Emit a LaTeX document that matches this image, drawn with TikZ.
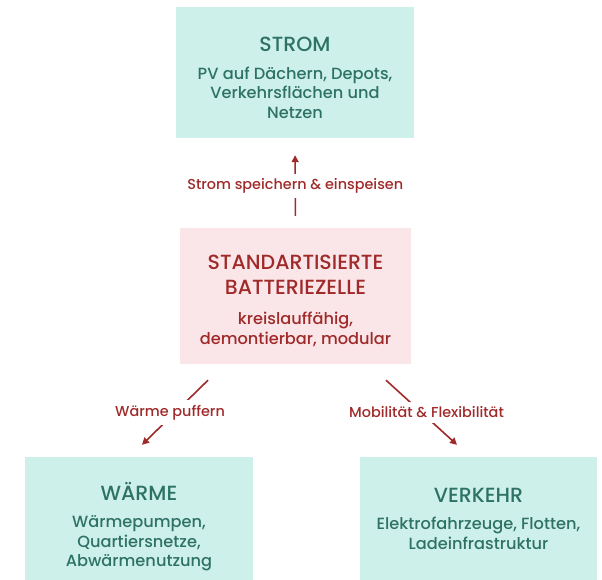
\documentclass[tikz,border=0pt]{standalone}
\usepackage{fontspec}
\setmainfont{Poppins Medium}
\usetikzlibrary{arrows.meta, positioning}
\definecolor{cellteal}{RGB}{46, 114, 102}
\definecolor{cellmint}{RGB}{205, 240, 234}
\definecolor{cellred}{RGB}{160, 42, 42}
\definecolor{cellpink}{RGB}{250, 230, 232}
% title line, with a strut that sets how far the text sits from the box top
\newcommand{\boxtitle}[2]{{\fontsize{20.5}{26}\selectfont\rule{0pt}{#1}#2}}

\begin{document}
\begin{tikzpicture}[
    x=1pt, y=-1pt,
    sector/.style={fill=cellmint, text=cellteal, align=center, inner sep=0pt,
                   font=\fontsize{16.2}{19.5}\selectfont},
    cell/.style={fill=cellpink, text=cellred, align=center, inner sep=0pt,
                 font=\fontsize{16.2}{20}\selectfont},
    lbl/.style={fill=white, text=cellred, inner xsep=2pt, inner ysep=5pt,
                font=\fontsize{14.4}{16}\selectfont},
    arr/.style={-{Triangle[length=7pt, width=7pt]}, draw=cellred,
                line width=1.6pt},
  ]
    \useasboundingbox (0,0) rectangle (602,580);
    % Supply side on top
    \node[sector, minimum width=238pt, minimum height=131pt] (strom) at (295,72.5)
      {\boxtitle{25pt}{STROM}\\[8pt]PV auf Dächern, Depots,\\Verkehrsflächen und\\Netzen};
    % Central battery cell
    \node[cell, minimum width=231pt, minimum height=136pt] (batt) at (295.5,296)
      {\boxtitle{25pt}{STANDARTISIERTE}\\[5pt]\boxtitle{0pt}{BATTERIEZELLE}\\[10pt]kreislauffähig,\\demontierbar, modular};
    % Two sectors below
    \node[sector, minimum width=228pt, minimum height=123pt] (waerme) at (139,518.5)
      {\boxtitle{34pt}{WÄRME}\\[8pt]Wärmepumpen,\\Quartiersnetze,\\Abwärmenutzung};
    \node[sector, minimum width=237pt, minimum height=123pt] (verkehr) at (478.5,518.5)
      {\boxtitle{0pt}{VERKEHR}\\[8pt]Elektrofahrzeuge, Flotten,\\Ladeinfrastruktur};

    \draw[arr, shorten <=12pt, shorten >=17pt] (batt.north) --
      node[lbl, yshift=-3pt]{Strom speichern \& einspeisen} (strom.south);
    \draw[arr] ([xshift=-87.5pt, yshift=-16pt]batt.south) --
      node[lbl, xshift=-5pt]{Wärme puffern} ([xshift=3pt, yshift=12pt]waerme.north);
    \draw[arr] ([xshift=90.5pt, yshift=-16pt]batt.south) --
      node[lbl, xshift=5pt]{Mobilität \& Flexibilität} ([xshift=-21.5pt, yshift=12pt]verkehr.north);
\end{tikzpicture}
\end{document}
